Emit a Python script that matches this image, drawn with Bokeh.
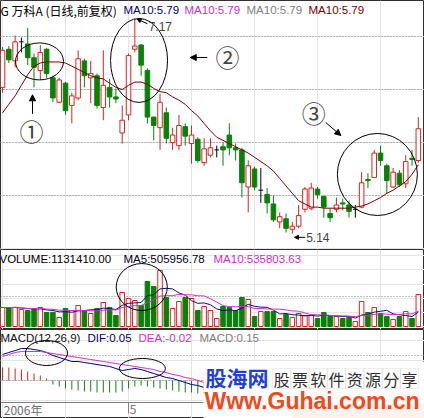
import numpy as np
import pandas as pd
from bokeh.plotting import figure
from bokeh.layouts import column
from bokeh.models import Range1d, Span, Label, Arrow, NormalHead, BoxAnnotation
from bokeh.embed import file_html
from bokeh.resources import INLINE

# 万科A daily bars, front-adjusted, spring 2006
open_ = [6.52, 6.88, 6.77, 6.95, 6.93, 6.80, 6.68, 6.88, 6.61, 6.38,
         6.56, 6.35, 6.42, 6.77, 6.61, 6.63, 6.33, 6.52, 6.43, 6.09,
         6.26, 6.88, 6.92, 6.68, 6.24, 6.14, 6.28, 6.00, 5.97, 6.15,
         5.99, 6.03, 5.81, 5.88, 5.93, 5.96, 6.07, 5.95, 5.93, 5.58,
         5.75, 5.55, 5.51, 5.42, 5.25, 5.28, 5.18, 5.21, 5.37, 5.38,
         5.56, 5.49, 5.33, 5.37, 5.43, 5.41, 5.37, 5.39, 5.65, 5.67,
         5.90, 5.78, 5.58, 5.71, 5.61, 5.85, 5.83]
high = [6.90, 6.91, 7.01, 6.99, 7.08, 6.84, 6.92, 6.89, 6.63, 6.61,
        6.57, 6.47, 6.87, 6.79, 6.77, 6.65, 6.87, 6.60, 6.51, 6.35,
        6.84, 7.17, 6.93, 6.70, 6.24, 6.46, 6.33, 6.14, 6.26, 6.18,
        6.16, 6.05, 6.04, 6.04, 5.97, 6.00, 6.18, 5.99, 5.95, 5.83,
        5.77, 5.76, 5.57, 5.50, 5.34, 5.33, 5.25, 5.41, 5.58, 5.62,
        5.58, 5.50, 5.38, 5.48, 5.47, 5.45, 5.41, 5.72, 5.71, 5.93,
        5.97, 5.80, 5.76, 5.74, 5.88, 5.93, 6.24]
low = [6.47, 6.75, 6.71, 6.85, 6.73, 6.52, 6.59, 6.61, 6.38, 6.37,
       6.26, 6.18, 6.40, 6.52, 6.37, 6.32, 6.21, 6.33, 6.37, 5.99,
       6.21, 6.85, 6.63, 6.18, 6.02, 5.93, 5.99, 5.93, 5.93, 5.97,
       5.80, 5.81, 5.78, 5.86, 5.86, 5.78, 5.88, 5.83, 5.48, 5.34,
       5.55, 5.43, 5.33, 5.25, 5.19, 5.15, 5.14, 5.19, 5.34, 5.36,
       5.47, 5.29, 5.25, 5.34, 5.36, 5.29, 5.29, 5.38, 5.57, 5.67,
       5.78, 5.52, 5.57, 5.58, 5.57, 5.78, 5.81]
close = [6.87, 6.78, 6.95, 6.95, 6.80, 6.71, 6.85, 6.65, 6.42, 6.59,
         6.30, 6.44, 6.79, 6.63, 6.65, 6.35, 6.54, 6.43, 6.41, 6.21,
         6.82, 6.91, 6.73, 6.24, 6.16, 6.38, 6.04, 6.07, 6.16, 6.06,
         6.07, 5.83, 5.94, 5.95, 5.93, 5.93, 5.95, 5.93, 5.62, 5.78,
         5.58, 5.55, 5.43, 5.27, 5.30, 5.19, 5.21, 5.31, 5.56, 5.57,
         5.51, 5.39, 5.29, 5.41, 5.42, 5.35, 5.37, 5.62, 5.64, 5.90,
         5.83, 5.64, 5.72, 5.60, 5.82, 5.84, 6.13]
ma10 = [6.28, 6.36, 6.44, 6.54, 6.64, 6.72, 6.75, 6.76, 6.76, 6.76,
        6.75, 6.72, 6.69, 6.66, 6.63, 6.61, 6.60, 6.56, 6.52, 6.50,
        6.54, 6.57, 6.57, 6.55, 6.51, 6.48, 6.47, 6.43, 6.40, 6.36,
        6.30, 6.25, 6.18, 6.11, 6.05, 6.02, 5.99, 5.96, 5.93, 5.90,
        5.86, 5.82, 5.78, 5.73, 5.66, 5.59, 5.52, 5.45, 5.42, 5.39,
        5.39, 5.38, 5.38, 5.38, 5.38, 5.38, 5.39, 5.40, 5.42, 5.45,
        5.48, 5.52, 5.55, 5.59, 5.63, 5.70, 5.79]
volume = [672000, 665000, 680000, 600000, 566000, 601000, 672000, 495000, 500000, 318000,
          636000, 566000, 742000, 560000, 460000, 636000, 849000, 672000, 389000, 1202000,
          990000, 919000, 742000, 1591000, 1414000, 1980000, 1025000, 636000, 884000, 1025000,
          990000, 566000, 707000, 566000, 283000, 707000, 672000, 566000, 1025000, 955000,
          354000, 530000, 530000, 530000, 283000, 424000, 318000, 460000, 389000, 389000,
          283000, 495000, 354000, 354000, 283000, 318000, 177000, 884000, 495000, 672000,
          460000, 354000, 248000, 354000, 530000, 283000, 1131410]
# MACD(12,26,9) over the first 33 sessions
dif = [0.26, 0.28, 0.30, 0.32, 0.32, 0.31, 0.30, 0.28, 0.25, 0.23,
       0.21, 0.19, 0.19, 0.18, 0.17, 0.16, 0.15, 0.14, 0.12, 0.10,
       0.11, 0.12, 0.11, 0.09, 0.07, 0.05, 0.03, 0.02, 0.00, -0.02,
       -0.04, -0.05, -0.07]
dea = [0.24, 0.26, 0.28, 0.29, 0.29, 0.29, 0.29, 0.28, 0.27, 0.26,
       0.25, 0.24, 0.23, 0.22, 0.21, 0.20, 0.19, 0.18, 0.17, 0.16,
       0.15, 0.14, 0.13, 0.12, 0.11, 0.09, 0.08, 0.06, 0.05, 0.03,
       0.02, 0.00, -0.02]
macd_bar = [0.13, 0.13, 0.12, 0.11, 0.09, 0.07, 0.05, 0.02, -0.04, -0.06,
            -0.08, -0.09, -0.10, -0.11, -0.11, -0.12, -0.12, -0.12, -0.12, -0.11,
            -0.08, -0.06, -0.05, -0.06, -0.07, -0.08, -0.09, -0.10, -0.11, -0.12,
            -0.12, -0.13, -0.13]

month_ticks = [0, 20]
month_labels = ["2006年", "5"]
price_grid = [7.0, 6.5, 6.0, 5.5]
vol_grid = [1060000]
macd_grid = [0.25, 0.0]

RED = "#dd2222"
GREEN = "#0a800a"
NAVY = "#000080"
MAGENTA = "#d030d0"
GREY = "#808080"
MAROON = "#800000"
CJK = "Noto Sans CJK SC"
LAT = "Liberation Sans"

o = np.array(open_)
h = np.array(high)
l = np.array(low)
c = np.array(close)
v = np.array(volume, dtype=float)
idx = np.arange(len(c))
up = c > o
dn = c < o
flat = c == o
BODY = 0.72

x_range = Range1d(-0.32, 66.98)


def panel(height, y_range):
    return figure(width=424, height=height, x_range=x_range, y_range=y_range,
                  output_backend="svg", toolbar_location=None, title=None,
                  x_axis_location=None, y_axis_location=None, min_border=0,
                  outline_line_color="#303030", background_fill_color="white")


def dotted(p, levels):
    for g in levels:
        p.add_layout(Span(location=g, dimension="width", line_color=GREY,
                          line_dash="1 2", line_width=1, level="underlay"))


def label(p, x, y, text, color="black", size="11.5px", font=LAT, **kw):
    p.add_layout(Label(x=x, y=y, x_units="screen", text=text, text_color=color,
                       text_font=font, text_font_size=size, text_baseline="middle", **kw))


# ---------------- price panel ----------------
pp = panel(249, Range1d(4.99, 7.34))
dotted(pp, price_grid)
wick_col = np.where(up, RED, np.where(dn, GREEN, "black"))
pp.segment(x0=idx, y0=l, x1=idx, y1=h, line_color=list(wick_col), line_width=1)
pp.vbar(x=idx[up], width=BODY, top=c[up], bottom=o[up], fill_color="white", line_color=RED)
pp.vbar(x=idx[dn], width=BODY, top=o[dn], bottom=c[dn], fill_color=GREEN, line_color=GREEN)
pp.segment(x0=idx[flat] - BODY / 2, x1=idx[flat] + BODY / 2, y0=o[flat], y1=o[flat],
           line_color="black", line_width=1)
pp.line(idx, ma10, line_color=MAROON, line_width=1)

label(pp, 0, 7.246, "G 万科A (日线,前复权)", "black", "12px", CJK)
for xs, col in [(123, NAVY), (184, MAGENTA), (246, GREY), (308, MAROON)]:
    label(pp, xs, 7.246, f"MA10:{ma10[-1]:.2f}", col)

# extreme markers
hi_i = int(np.argmax(h))
lo_i = int(np.argmin(l))
pp.add_layout(Arrow(end=NormalHead(size=4, fill_color="black", line_color="black"),
                    x_start=hi_i + 2.0, y_start=h[hi_i] - 0.05,
                    x_end=hi_i + 0.35, y_end=h[hi_i] - 0.005, line_width=1))
pp.add_layout(Label(x=hi_i + 2.2, y=h[hi_i] - 0.075, text=f"{h[hi_i]:.2f}",
                    text_font=LAT, text_font_size="12px", text_baseline="middle"))
pp.add_layout(Arrow(end=NormalHead(size=4, fill_color="black", line_color="black"),
                    x_start=lo_i + 2.05, y_start=l[lo_i] - 0.035,
                    x_end=lo_i + 0.35, y_end=l[lo_i] - 0.035, line_width=1))
pp.add_layout(Label(x=lo_i + 2.2, y=l[lo_i] - 0.035, text=f"{l[lo_i]:.2f}",
                    text_font=LAT, text_font_size="12px", text_baseline="middle"))

# hand-drawn style notes
pp.ellipse(x=[5.87, 21.67, 59.5], y=[6.765, 6.774, 5.698],
           width=[7.62, 9.05, 12.7], height=[0.349, 0.792, 0.774],
           fill_color=None, line_color="black", line_width=1)
for txt, xx, yy in [("①", 4.6, 6.114), ("②", 35.7, 6.812), ("③", 49.4, 6.283)]:
    pp.add_layout(Label(x=xx, y=yy, text=txt, text_font=CJK, text_font_size="24px",
                        text_align="center", text_baseline="middle"))
for x0, y0, x1, y1 in [(4.76, 6.27, 4.76, 6.45), (32.5, 6.802, 29.8, 6.802),
                       (51.3, 6.189, 53.7, 6.066)]:
    pp.add_layout(Arrow(end=NormalHead(size=6, fill_color="black", line_color="black"),
                        x_start=x0, y_start=y0, x_end=x1, y_end=y1, line_width=1))

# ---------------- volume panel ----------------
vp = panel(80, Range1d(-106000, 2723000))
dotted(vp, vol_grid)
vup = c >= o
vp.vbar(x=idx[vup], width=BODY, top=v[vup], bottom=0, fill_color="white", line_color=RED)
vp.vbar(x=idx[~vup], width=BODY, top=v[~vup], bottom=0, fill_color=GREEN, line_color=GREEN)
vma5 = pd.Series(v).rolling(5, min_periods=1).mean()
vma10 = pd.Series(v).rolling(10, min_periods=1).mean()
vp.line(idx, vma5, line_color="#101060", line_width=1)
vp.line(idx, vma10, line_color=MAGENTA, line_width=1)
label(vp, -1, 2404000, f"VOLUME:{volume[-1]:.2f}")
label(vp, 123, 2404000, "MA5:505956.78", "#000030")
label(vp, 213, 2404000, "MA10:535803.63", MAGENTA)
vp.ellipse(x=[22.1], y=[1396000], width=[8.1], height=[1662000],
           fill_color=None, line_color="black", line_width=1)

# ---------------- MACD panel ----------------
mp = panel(89, Range1d(-0.38, 0.51))
dotted(mp, macd_grid)
mi = idx[:len(macd_bar)]
mb = np.array(macd_bar)
mp.segment(x0=mi, x1=mi, y0=0, y1=mb,
           line_color=[RED if b > 0 else "#1a7a1a" for b in mb], line_width=1)
mp.line(mi, dif, line_color=NAVY, line_width=1)
mp.line(mi, dea, line_color=MAGENTA, line_width=1)
label(mp, 0, 0.43, "MACD(12,26,9)", "#101010")
label(mp, 87, 0.43, "DIF:0.05", NAVY)
label(mp, 138, 0.43, "DEA:-0.02", MAGENTA)
label(mp, 199, 0.43, "MACD:0.15", GREY)
mp.ellipse(x=[6.98, 22.2], y=[0.275, 0.12], width=[6.67, 7.3], height=[0.25, 0.20],
           fill_color=None, line_color="black", line_width=1)

# date axis
mp.add_layout(Span(location=-0.22, dimension="width", line_color=GREY, line_width=1))
mp.segment(x0=month_ticks[1:], x1=month_ticks[1:], y0=-0.22, y1=-0.33,
           line_color=GREY, line_width=1)
for t, txt in zip(month_ticks, month_labels):
    mp.add_layout(Label(x=t + 0.2, y=-0.285, text=txt, text_color="#707070",
                        text_font=CJK, text_font_size="12px", text_baseline="middle"))

# site banner in the lower right corner
mp.add_layout(BoxAnnotation(left=31.9, right=67.5, top=0.19, bottom=-0.40,
                            fill_color="white", fill_alpha=1.0, line_color=None))
mp.add_layout(BoxAnnotation(left=46.0, right=67.5, top=-0.23, bottom=-0.40,
                            fill_color="#fef3ec", fill_alpha=1.0, line_color=None))
label(mp, 205, 0.04, "股海网", "#1f3fd6", "21px", CJK, text_font_style="bold")
cells = "股票软件资源分享"
cw = 2.9
for k, ch in enumerate(cells):
    x0 = 42.86 + k * cw
    mp.add_layout(BoxAnnotation(left=x0, right=x0 + cw, top=0.12, bottom=-0.08,
                                fill_alpha=0, line_color="#c8c8c8", line_width=1))
    mp.add_layout(Label(x=x0 + cw / 2, y=0.02, text=ch, text_color="#303030",
                        text_font=CJK, text_font_size="16px",
                        text_align="center", text_baseline="middle"))
label(mp, 204, -0.205, "Www.Guhai.com.cn", "#ee4a1a", "23px", LAT, text_font_style="bold")

layout = column(pp, vp, mp)
open("out.html", "w").write(file_html(layout, INLINE))
